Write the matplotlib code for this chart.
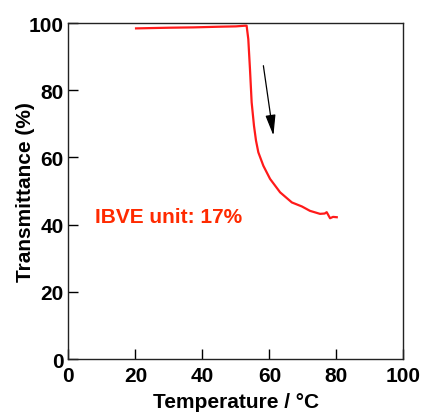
import numpy as np
import matplotlib.pyplot as plt

# values
temp = [20.2, 25, 30, 37.3, 45, 50, 52.7, 53.2, 53.7, 54.2, 54.7, 55.4, 56.0, 56.7,
        58.2, 60.2, 63.2, 66.7, 69.7, 72.1, 75.1, 76.5, 77.1, 78.1, 79.0, 80.1]
trans = [98.4, 98.5, 98.6, 98.7, 98.9, 99.0, 99.2, 99.2, 95.2, 86.3, 76.4, 69.4, 65.0, 61.5,
         57.5, 53.6, 49.6, 46.6, 45.4, 44.1, 43.2, 43.3, 43.7, 41.9, 42.3, 42.2]

arrow_start = (58.2, 87.3)
arrow_end = (61.2, 66.5)
label_text = "IBVE unit: 17%"
xticks = [0, 20, 40, 60, 80, 100]
yticks = [0, 20, 40, 60, 80, 100]

plt.rcParams['font.family'] = ['Liberation Sans', 'DejaVu Sans']
plt.rcParams['font.weight'] = 'bold'

fig = plt.figure(figsize=(4.22, 4.14), dpi=100)
ax = fig.add_axes([0.162, 0.1304, 0.794, 0.8116])

ax.plot(temp, trans, color='#ff1a1a', lw=1.6)

ax.annotate('', xy=arrow_end, xytext=arrow_start,
            arrowprops=dict(arrowstyle='-|>,head_length=0.9,head_width=0.22',
                            color='black', lw=0.9,
                            mutation_scale=14, shrinkA=0, shrinkB=0))

ax.text(8.0, 42.3, label_text, color='#ff2a00', fontsize=15,
        fontweight='bold', va='center', ha='left')

ax.set_xlim(0, 100)
ax.set_ylim(0, 100)
ax.set_xticks(xticks)
ax.set_yticks(yticks)
ax.tick_params(direction='in', length=7.5, width=1, labelsize=15,
               top=False, right=False)
ax.tick_params(axis='x', pad=5)
ax.tick_params(axis='y', pad=3.5)
for lab in ax.get_xticklabels() + ax.get_yticklabels():
    lab.set_fontweight('bold')
for sp in ax.spines.values():
    sp.set_linewidth(1)
    sp.set_color('#222222')

ax.set_xlabel('Temperature / °C', fontsize=15, fontweight='bold', labelpad=5)
ax.set_ylabel('Transmittance (%)', fontsize=15, fontweight='bold', labelpad=-4.5)

fig.savefig('out.png', dpi=100)
